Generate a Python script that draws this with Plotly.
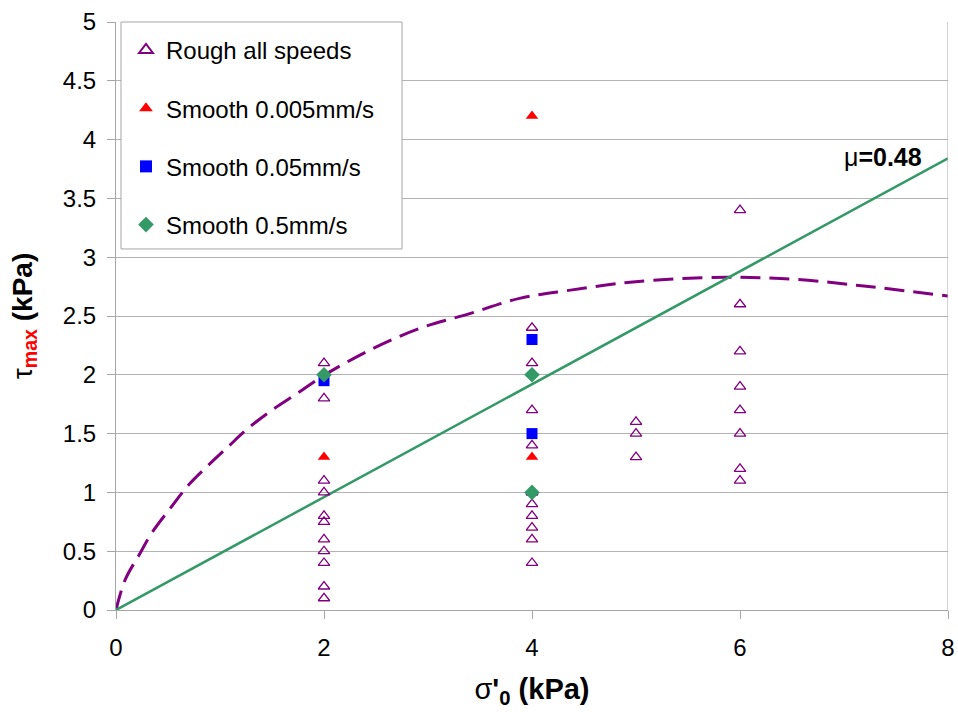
import plotly.graph_objects as go

# Rough interface, all shearing speeds
rough_x = [2, 2, 2, 2, 2, 2, 2, 2, 2, 2, 2,
           4, 4, 4, 4, 4, 4, 4, 4, 4, 4, 4,
           5, 5, 5,
           6, 6, 6, 6, 6, 6, 6, 6]
rough_y = [2.1, 1.8, 1.1, 1.0, 0.8, 0.75, 0.6, 0.5, 0.4, 0.2, 0.1,
           2.4, 2.1, 1.7, 1.4, 1.0, 0.9, 0.8, 0.7, 0.6, 0.4, 1.0,
           1.6, 1.5, 1.3,
           3.4, 2.6, 2.2, 1.9, 1.7, 1.5, 1.2, 1.1]

# Smooth interface, by shearing speed
s005_x = [2, 4, 4]
s005_y = [1.3, 4.2, 1.3]
s05_x = [2, 4, 4]
s05_y = [1.95, 2.3, 1.5]
s5_x = [2, 4, 4]
s5_y = [2.0, 2.0, 1.0]

# Friction line tau = mu * sigma'
mu = 0.48
line_x = [0, 8]
line_y = [0, mu * 8]

# Failure envelope (dashed curve)
env_x = [0, 0.087, 0.23, 0.34, 0.535, 0.695, 0.887, 1.08, 1.27, 1.50, 1.74, 1.99,
         2.44, 2.92, 3.40, 3.88, 4.37, 4.97, 5.87, 6.55, 7.19, 8.0]
env_y = [0, 0.255, 0.48, 0.65, 0.88, 1.06, 1.23, 1.39, 1.545, 1.70, 1.84, 1.99,
         2.21, 2.395, 2.52, 2.65, 2.72, 2.79, 2.83, 2.81, 2.755, 2.67]

x_ticks = [0, 2, 4, 6, 8]
y_ticks = [0, 0.5, 1, 1.5, 2, 2.5, 3, 3.5, 4, 4.5, 5]

PURPLE = "#800080"
GREEN = "#339966"
AXIS_GREY = "#a6a6a6"
FONT = "Liberation Sans, Arial, sans-serif"

fig = go.Figure()

fig.add_trace(go.Scatter(
    x=env_x, y=env_y, mode="lines", line=dict(color=PURPLE, width=3, dash="20px,9px", shape="spline"),
    showlegend=False, hoverinfo="skip"))
fig.add_trace(go.Scatter(
    x=line_x, y=line_y, mode="lines", line=dict(color=GREEN, width=2.5),
    showlegend=False, hoverinfo="skip"))

fig.add_trace(go.Scatter(
    x=rough_x, y=rough_y, mode="markers", name="Rough all speeds", legendgroup="a",
    marker=dict(symbol="triangle-up-open", size=10, color=PURPLE, line=dict(width=1.3, color=PURPLE))))
fig.add_trace(go.Scatter(
    x=s005_x, y=s005_y, mode="markers", name="Smooth 0.005mm/s", legendgroup="b",
    marker=dict(symbol="triangle-up", size=11, color="#ff0000")))
fig.add_trace(go.Scatter(
    x=s05_x, y=s05_y, mode="markers", name="Smooth 0.05mm/s", legendgroup="c",
    marker=dict(symbol="square", size=11, color="#0000ff")))
fig.add_trace(go.Scatter(
    x=s5_x, y=s5_y, mode="markers", name="Smooth 0.5mm/s", legendgroup="d",
    marker=dict(symbol="diamond", size=12, color=GREEN)))

fig.add_annotation(
    x=7.77, y=3.85, xref="x", yref="y", text="μ<b>=0.48</b>", showarrow=False,
    xanchor="right", yanchor="middle", font=dict(family=FONT, size=25, color="black"))

# right border of the plot area
fig.add_shape(type="line", xref="x", yref="y", x0=8, x1=8, y0=0, y1=5,
              line=dict(color=AXIS_GREY, width=1))

# legend frame
fig.add_shape(type="rect", xref="paper", yref="paper", x0=0.006, x1=0.3438, y0=0.614, y1=1.0,
              line=dict(color=AXIS_GREY, width=1), fillcolor="white", layer="above")

fig.update_layout(
    width=958, height=716,
    margin=dict(l=116, r=10, t=22, b=106),
    paper_bgcolor="white", plot_bgcolor="white",
    font=dict(family=FONT, size=24, color="black"),
    legend=dict(
        x=0.012, y=0.99, xanchor="left", yanchor="top",
        bgcolor="rgba(0,0,0,0)", borderwidth=0,
        font=dict(family=FONT, size=24, color="black"),
        tracegroupgap=24, itemsizing="constant",
    ),
    xaxis=dict(
        range=[0, 8], tickvals=x_ticks, showgrid=False, zeroline=False, automargin=False,
        showline=True, linecolor=AXIS_GREY, linewidth=1,
        ticks="outside", ticklen=8, tickcolor=AXIS_GREY, ticklabelstandoff=8,
        tickfont=dict(size=24),
        title=dict(text="σ<b>'<sub>0</sub> (kPa)</b>", font=dict(size=29), standoff=18),
    ),
    yaxis=dict(
        range=[0, 5], tickvals=y_ticks, showgrid=True, gridcolor="#b3b3b3", gridwidth=1,
        zeroline=False, showline=True, linecolor=AXIS_GREY, linewidth=1, automargin=False,
        ticks="outside", ticklen=8, tickcolor=AXIS_GREY, ticklabelstandoff=6,
        tickfont=dict(size=24),
        title=dict(text="τ<b><sub><span style='color:#ff0000'>max</span></sub> (kPa)</b>",
                   font=dict(size=28), standoff=22),
    ),
)

fig.write_html("out.html")
